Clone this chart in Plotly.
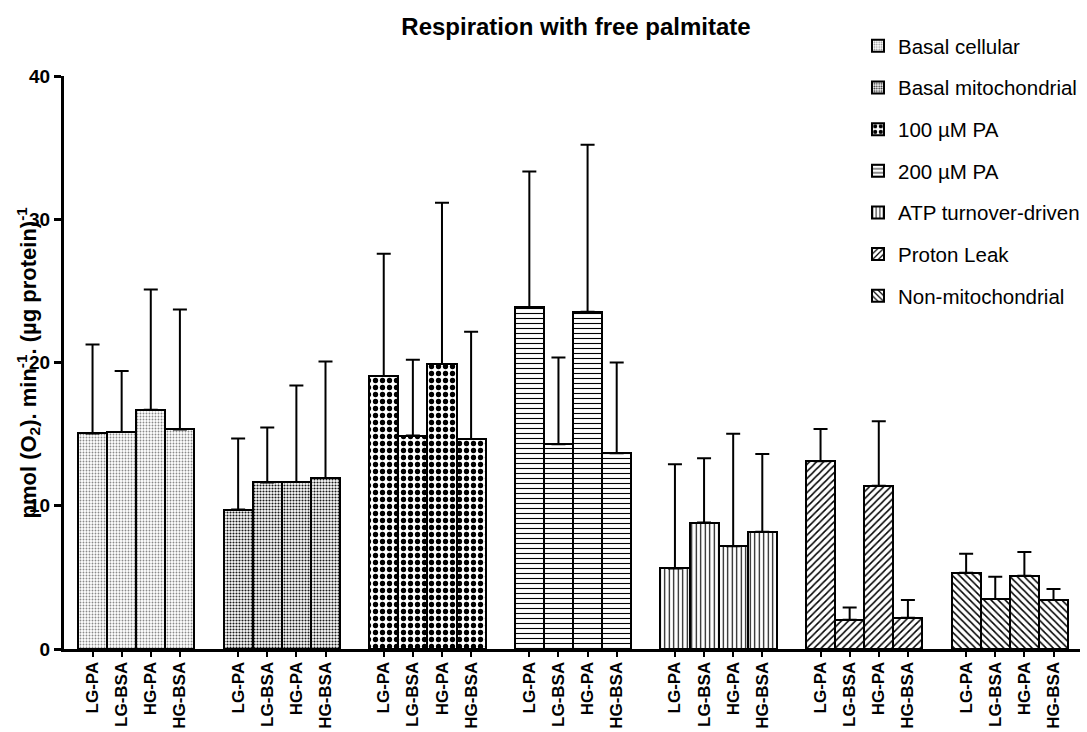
import plotly.graph_objects as go

# Conditions within each measurement group
conditions = ["LG-PA", "LG-BSA", "HG-PA", "HG-BSA"]

# Measurement groups (legend order)
groups = [
    "Basal cellular",
    "Basal mitochondrial",
    "100 µM PA",
    "200 µM PA",
    "ATP turnover-driven",
    "Proton Leak",
    "Non-mitochondrial",
]

# Mean respiration per group, in condition order
basal_cellular = [15.05, 15.15, 16.7, 15.33]
basal_mito = [9.73, 11.63, 11.66, 11.94]
pa_100 = [19.05, 14.9, 19.9, 14.66]
pa_200 = [23.88, 14.3, 23.55, 13.66]
atp_turnover = [5.62, 8.83, 7.18, 8.18]
proton_leak = [13.1, 2.04, 11.4, 2.18]
non_mito = [5.32, 3.49, 5.11, 3.42]

# Upper end of the error bar (mean + SD) per group
basal_cellular_top = [21.25, 19.4, 25.1, 23.7]
basal_mito_top = [14.7, 15.47, 18.4, 20.07]
pa_100_top = [27.6, 20.2, 31.15, 22.14]
pa_200_top = [33.33, 20.35, 35.2, 20.0]
atp_turnover_top = [12.9, 13.31, 15.03, 13.61]
proton_leak_top = [15.35, 2.9, 15.9, 3.42]
non_mito_top = [6.65, 5.05, 6.77, 4.19]

means = [basal_cellular, basal_mito, pa_100, pa_200, atp_turnover, proton_leak, non_mito]
tops = [basal_cellular_top, basal_mito_top, pa_100_top, pa_200_top,
        atp_turnover_top, proton_leak_top, non_mito_top]

# Fill pattern per group: (shape, fg colour, size, solidity)
patterns = [
    (".", "#8a8a8a", 3, 0.3),
    (".", "#1a1a1a", 3, 0.4),
    (".", "#000000", 7, 0.45),
    ("-", "#000000", 5, 0.22),
    ("|", "#000000", 4.5, 0.25),
    ("/", "#000000", 5, 0.3),
    ("\\", "#000000", 5, 0.3),
]

FONT = "Liberation Sans, Arial, sans-serif"
SLOT = 5  # four bars plus one empty slot between groups

fig = go.Figure()
tickvals, ticktext = [], []
for g, name in enumerate(groups):
    xs = [g * SLOT + i for i in range(len(conditions))]
    tickvals += xs
    ticktext += conditions
    shape, fg, size, sol = patterns[g]
    fig.add_trace(go.Bar(
        x=xs,
        y=means[g],
        name=name,
        legendgroup=name,
        width=1.0,
        marker=dict(
            color="white",
            line=dict(color="black", width=2),
            pattern=dict(shape=shape, fgcolor=fg, fgopacity=1, bgcolor="white",
                         size=size, solidity=sol, fillmode="overlay"),
        ),
        error_y=dict(
            type="data",
            symmetric=False,
            array=[t - m for t, m in zip(tops[g], means[g])],
            arrayminus=[0] * len(conditions),
            color="black",
            thickness=2,
            width=7,
        ),
    ))

W, H = 1087, 732
L, R, T, B = 64, 7, 76, 83
pw = W - L - R

fig.update_layout(
    width=W,
    height=H,
    margin=dict(l=L, r=R, t=T, b=B, autoexpand=False),
    paper_bgcolor="white",
    plot_bgcolor="white",
    bargap=0,
    showlegend=True,
    font=dict(family=FONT, color="black"),
    title=dict(
        text="<b>Respiration with free palmitate</b>",
        x=576 / W, xanchor="center",
        y=1 - 27 / H, yanchor="middle",
        font=dict(size=24, family=FONT, color="black"),
    ),
    legend=dict(
        x=(858 - L) / pw, xanchor="left",
        y=1 + (T - 26) / (H - T - B), yanchor="top",
        font=dict(size=20.5, family=FONT, color="black"),
        tracegroupgap=12,
        bgcolor="rgba(255,255,255,0)",
        itemwidth=30,
    ),
    xaxis=dict(
        range=[-0.98, 33.91],
        tickvals=tickvals,
        ticktext=ticktext,
        tickangle=-90,
        ticks="outside",
        ticklen=5,
        tickwidth=2,
        tickcolor="black",
        showline=True,
        linecolor="black",
        linewidth=3,
        showgrid=False,
        zeroline=False,
        automargin=False,
        ticklabelstandoff=-2,
        tickfont=dict(size=17, family=FONT, color="black", weight="bold"),
    ),
    yaxis=dict(
        range=[0, 40],
        tickvals=[0, 10, 20, 30, 40],
        ticks="outside",
        ticklen=7,
        tickwidth=3,
        tickcolor="black",
        showline=True,
        linecolor="black",
        linewidth=3,
        showgrid=False,
        zeroline=False,
        automargin=False,
        tickfont=dict(size=19, family=FONT, color="black", weight="bold"),
    ),
    annotations=[dict(
        text="<b>pmol (O<sub>2</sub>). min<sup>-1</sup>. (µg protein)<sup>-1</sup></b>",
        xref="paper", yref="paper",
        x=-(L - 28) / pw, y=0.5,
        xanchor="center", yanchor="middle",
        textangle=-90,
        showarrow=False,
        font=dict(size=22, family=FONT, color="black"),
    )],
)

fig.write_html("out.html")
